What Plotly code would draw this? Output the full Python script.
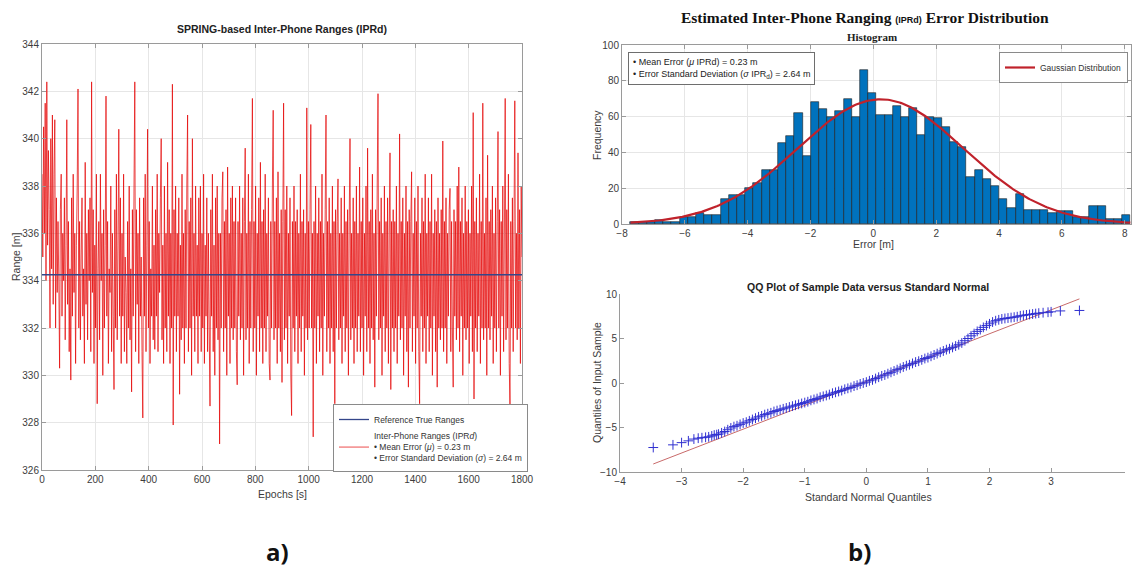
import plotly.graph_objects as go
import numpy as np

# ---------------- data ----------------
epochs = list(range(0, 1801, 3))
ipr_ranges = [
    338.5, 335.0, 340.5, 336.0, 341.5, 334.0, 342.4, 335.5, 339.5, 337.0, 332.0, 340.0, 334.5, 341.0, 333.0, 338.5, 340.8, 332.0, 337.5, 333.5,
    336.5, 334.0, 330.3, 337.0, 338.5, 332.5, 336.0, 334.0, 337.5, 331.5, 335.5, 340.8, 333.0, 336.5, 331.0, 334.5, 329.8, 337.5, 332.5, 338.5,
    333.5, 336.0, 330.5, 335.5, 338.0, 342.1, 332.0, 336.5, 331.5, 335.0, 337.5, 332.5, 334.5, 330.5, 339.0, 333.0, 336.0, 331.5, 337.0, 334.0,
    337.5, 331.0, 342.4, 333.5, 337.0, 330.5, 335.5, 332.0, 338.5, 328.8, 334.5, 336.5, 331.5, 338.5, 334.0, 336.0, 330.0, 337.0, 332.0, 335.5,
    341.8, 332.5, 336.5, 330.5, 334.5, 333.5, 338.0, 331.0, 336.0, 332.5, 329.4, 337.0, 332.0, 338.5, 331.5, 335.5, 340.4, 332.5, 337.5, 330.5,
    336.0, 332.5, 338.5, 331.0, 335.0, 333.5, 330.5, 336.5, 332.0, 338.0, 331.5, 334.5, 329.3, 337.0, 332.5, 338.0, 342.4, 331.0, 337.0, 333.0,
    336.0, 330.5, 337.5, 332.5, 335.0, 331.0, 328.2, 337.5, 332.5, 338.5, 331.0, 335.5, 340.4, 332.0, 336.5, 330.5, 334.5, 332.5, 338.0, 331.5,
    335.5, 331.1, 337.0, 332.5, 338.5, 331.0, 336.0, 333.5, 337.5, 340.0, 331.5, 335.5, 330.5, 338.0, 332.0, 336.0, 331.0, 339.0, 332.5, 337.0,
    330.5, 336.0, 332.0, 342.3, 327.9, 337.0, 332.5, 338.0, 331.0, 336.0, 332.5, 337.5, 329.2, 335.5, 331.5, 338.5, 332.0, 336.0, 330.5, 337.0,
    332.0, 338.0, 341.0, 331.0, 336.5, 332.0, 337.5, 330.0, 340.0, 332.5, 336.0, 331.0, 338.0, 332.5, 335.5, 330.5, 337.5, 332.5, 338.0, 331.0,
    336.0, 332.0, 338.5, 330.5, 335.5, 332.5, 337.5, 331.0, 336.0, 332.0, 328.7, 337.0, 332.5, 338.5, 331.0, 335.5, 330.0, 337.5, 332.0, 338.0,
    331.5, 336.0, 327.1, 336.0, 332.0, 337.5, 338.6, 331.0, 336.5, 332.0, 337.0, 330.0, 338.8, 332.5, 336.0, 330.5, 337.5, 332.0, 338.0, 331.5,
    336.5, 332.0, 337.5, 331.0, 329.6, 336.5, 332.5, 338.0, 331.5, 336.0, 332.0, 337.5, 330.0, 336.5, 339.6, 331.5, 336.0, 332.0, 338.5, 330.5,
    336.5, 332.0, 337.0, 341.7, 331.0, 336.5, 332.0, 338.0, 330.0, 336.0, 332.5, 337.5, 331.0, 339.0, 332.0, 336.5, 330.5, 337.0, 332.0, 338.5,
    331.0, 336.0, 332.5, 337.5, 330.5, 329.8, 336.5, 332.0, 338.0, 341.2, 331.5, 336.5, 332.0, 337.5, 330.5, 338.6, 332.0, 336.0, 331.0, 337.0,
    329.7, 336.5, 341.5, 331.5, 337.0, 332.0, 338.0, 330.5, 336.0, 332.5, 337.5, 330.0, 328.3, 336.5, 332.0, 338.0, 331.0, 336.5, 332.5, 337.0,
    330.5, 336.0, 332.0, 338.5, 331.0, 336.5, 332.5, 337.0, 330.0, 336.0, 332.0, 341.3, 331.5, 336.5, 332.0, 337.0, 340.6, 332.0, 336.0, 327.4,
    336.5, 332.0, 338.0, 330.5, 336.0, 332.5, 337.5, 331.0, 336.5, 332.0, 338.5, 330.0, 336.0, 332.5, 337.0, 341.0, 331.0, 336.5, 332.0, 337.5,
    330.5, 336.0, 332.0, 338.0, 331.0, 336.5, 328.8, 337.0, 332.0, 336.5, 338.3, 331.5, 336.0, 332.0, 337.5, 330.5, 336.0, 332.5, 338.0, 331.0,
    336.5, 332.0, 337.0, 330.0, 336.5, 340.0, 331.5, 336.0, 332.0, 337.5, 330.5, 336.5, 332.0, 338.0, 331.0, 336.0, 332.5, 338.8, 331.0, 336.5,
    332.0, 337.5, 330.0, 336.0, 332.5, 338.0, 331.0, 339.6, 332.0, 336.5, 330.5, 337.0, 332.0, 338.5, 331.5, 336.0, 329.5, 337.0, 332.5, 338.0,
    341.9, 331.5, 336.5, 332.0, 337.5, 330.0, 336.0, 332.5, 338.0, 331.0, 336.5, 332.0, 337.5, 330.5, 336.0, 339.4, 329.4, 336.5, 332.0, 337.0,
    331.0, 336.5, 332.0, 338.0, 330.5, 336.0, 332.5, 340.2, 331.5, 336.5, 332.0, 337.5, 330.0, 336.0, 332.5, 338.0, 331.0, 336.5, 329.5, 337.0,
    332.0, 336.5, 338.6, 331.0, 336.0, 332.5, 337.5, 330.5, 336.5, 332.0, 338.0, 331.0, 328.8, 336.0, 332.5, 337.5, 331.0, 336.5, 332.0, 338.5,
    330.5, 336.0, 332.5, 337.5, 331.0, 336.5, 332.0, 338.5, 330.0, 336.0, 332.5, 337.0, 331.0, 336.5, 329.5, 337.5, 332.0, 336.0, 331.5, 337.0,
    332.0, 339.9, 331.0, 336.5, 332.0, 337.5, 330.5, 336.0, 332.5, 337.0, 337.9, 331.0, 336.5, 332.0, 329.5, 337.0, 332.5, 336.5, 331.5, 338.0,
    332.0, 338.8, 331.0, 336.5, 332.5, 337.5, 330.0, 336.0, 332.0, 338.0, 331.5, 336.5, 332.0, 337.0, 330.5, 336.0, 332.5, 338.0, 331.0, 341.1,
    329.0, 336.5, 332.0, 337.5, 331.0, 336.0, 332.5, 338.5, 330.5, 336.5, 332.0, 341.5, 331.5, 336.0, 332.0, 337.5, 330.0, 339.3, 332.0, 336.5,
    331.5, 337.0, 332.5, 338.0, 330.5, 336.0, 332.0, 337.5, 331.0, 336.5, 340.3, 332.0, 337.0, 330.0, 336.5, 332.5, 338.0, 331.0, 336.0, 341.7,
    331.5, 337.0, 332.0, 338.5, 330.5, 328.6, 336.5, 332.0, 337.5, 331.0, 336.5, 341.6, 332.0, 336.0, 331.5, 339.4, 332.0, 337.0, 330.5, 338.0,
    335.0,
]
true_range = 334.25

hist_bin_start = -7.73
hist_bin_width = 0.2608
hist_counts = [1, 1, 1, 2, 1, 1, 4, 4, 6, 5, 5, 14, 16, 16, 20, 23, 30, 30, 45, 49,
               62, 38, 68, 64, 60, 63, 70, 60, 86, 73,
               61, 61, 66, 60, 65, 50, 60, 59, 54, 46, 43, 26, 30, 25, 21, 14, 9, 17,
               8, 8, 8, 6, 7, 7, 4, 4, 10, 10, 3, 3, 5]
mean_err = 0.23
std_err = 2.64

qq_x = [-3.46, -3.14, -3.0, -2.89, -2.80, -2.73, -2.67, -2.61, -2.56, -2.51, -2.47, -2.43,
        -2.40, -2.35, -2.30, -2.25, -2.20, -2.15, -2.10, -2.05, -2.00, -1.95, -1.90, -1.85,
        -1.80, -1.75, -1.70, -1.65, -1.60, -1.55, -1.50, -1.45, -1.40, -1.35, -1.30, -1.25,
        -1.20, -1.15, -1.10, -1.05, -1.00, -0.95, -0.90, -0.85, -0.80, -0.75, -0.70, -0.65,
        -0.60, -0.55, -0.50, -0.45, -0.40, -0.35, -0.30, -0.25, -0.20, -0.15, -0.10, -0.05,
        0.00, 0.05, 0.10, 0.15, 0.20, 0.25, 0.30, 0.35, 0.40, 0.45, 0.50, 0.55,
        0.60, 0.65, 0.70, 0.75, 0.80, 0.85, 0.90, 0.95, 1.00, 1.05, 1.10, 1.15,
        1.20, 1.25, 1.30, 1.35, 1.40, 1.45, 1.50, 1.55, 1.60, 1.65, 1.70, 1.75,
        1.80, 1.85, 1.90, 1.95, 2.00, 2.05, 2.10, 2.15, 2.20, 2.25, 2.30, 2.35,
        2.40, 2.45, 2.50, 2.55, 2.60, 2.65, 2.70, 2.75, 2.80, 2.87, 2.95, 3.0, 3.15, 3.46]
qq_y = [-7.25, -6.95, -6.7, -6.5, -6.3, -6.2, -6.15, -6.1, -6.05, -5.95, -5.85, -5.8,
        -5.75, -5.6, -5.45, -5.25, -5.05, -4.9, -4.8, -4.65, -4.5, -4.4, -4.25, -4.1,
        -3.95, -3.8, -3.7, -3.55, -3.45, -3.35, -3.2, -3.1, -3.0, -2.9, -2.8, -2.7,
        -2.6, -2.5, -2.4, -2.3, -2.2, -2.1, -1.95, -1.85, -1.75, -1.6, -1.5, -1.4,
        -1.3, -1.15, -1.05, -0.95, -0.85, -0.7, -0.6, -0.5, -0.35, -0.25, -0.1, 0.0,
        0.1, 0.25, 0.35, 0.5, 0.65, 0.8, 0.9, 1.05, 1.2, 1.35, 1.5, 1.65,
        1.8, 1.95, 2.05, 2.2, 2.35, 2.45, 2.6, 2.75, 2.85, 3.0, 3.15, 3.3,
        3.45, 3.6, 3.75, 3.85, 4.0, 4.15, 4.3, 4.5, 4.75, 5.0, 5.3, 5.55,
        5.8, 6.0, 6.25, 6.45, 6.65, 6.85, 7.0, 7.1, 7.2, 7.25, 7.3, 7.35,
        7.4, 7.45, 7.55, 7.6, 7.65, 7.7, 7.75, 7.8, 7.85, 7.9, 7.95, 8.0, 8.1, 8.15]
qq_ref_x = [-3.46, 3.46]
qq_ref_y = [-9.1, 9.45]

# ---------------- derived ----------------
bin_centers = [hist_bin_start + (i + 0.5) * hist_bin_width for i in range(len(hist_counts))]
n_total = sum(hist_counts)
gx = np.linspace(hist_bin_start, hist_bin_start + len(hist_counts) * hist_bin_width, 300)
gy = n_total * hist_bin_width / (std_err * np.sqrt(2 * np.pi)) * np.exp(-0.5 * ((gx - mean_err) / std_err) ** 2)

FONT = "Liberation Sans, Arial, sans-serif"
SERIF = "Liberation Serif, DejaVu Serif, serif"
AX = "#9a9a9a"
TXT = "#3c3c3c"
GRID = "#e6e6e6"

fig = go.Figure()

fig.add_trace(go.Scatter(
    x=epochs, y=ipr_ranges, mode="lines",
    line=dict(color="rgba(228,0,0,0.7)", width=1, simplify=False),
    name="Inter-Phone Ranges (IPR<i>d</i>)<br>• Mean Error (<i>μ</i>) = 0.23 m<br>• Error Standard Deviation (<i>σ</i>) = 2.64 m",
    legendrank=2, xaxis="x", yaxis="y", legend="legend"))
fig.add_trace(go.Scatter(
    x=[epochs[0], epochs[-1]], y=[true_range, true_range], mode="lines",
    line=dict(color="#34468a", width=1.3),
    name="Reference True Ranges", legendrank=1, xaxis="x", yaxis="y", legend="legend"))

fig.add_trace(go.Bar(
    x=bin_centers, y=hist_counts, width=hist_bin_width,
    marker=dict(color="#0072BD", line=dict(color="#1b1b1b", width=0.6)),
    showlegend=False, xaxis="x2", yaxis="y2"))
fig.add_trace(go.Scatter(
    x=gx, y=gy, mode="lines", line=dict(color="#c0222b", width=2.2),
    name="Gaussian Distribution", xaxis="x2", yaxis="y2", legend="legend2"))

fig.add_trace(go.Scatter(
    x=qq_ref_x, y=qq_ref_y, mode="lines", line=dict(color="#c86a6a", width=1),
    showlegend=False, xaxis="x3", yaxis="y3"))
fig.add_trace(go.Scatter(
    x=qq_x, y=qq_y, mode="markers",
    marker=dict(symbol="cross-thin", size=7, line=dict(color="#3030d0", width=1)),
    showlegend=False, xaxis="x3", yaxis="y3"))

def axstyle(**kw):
    d = dict(showline=True, linecolor=AX, linewidth=1, ticks="inside", ticklen=4,
             tickcolor=AX, tickfont=dict(size=10, color=TXT, family=FONT),
             zeroline=False, showgrid=True, gridcolor=GRID, gridwidth=1,
             automargin=False)
    d.update(kw)
    return d

W, H = 1134, 569
def dx(a, b):
    return [a / W, b / W]
def dy(top, bottom):
    return [1 - bottom / H, 1 - top / H]

fig.update_layout(
    width=W, height=H, margin=dict(l=0, r=0, t=0, b=0),
    paper_bgcolor="white", plot_bgcolor="white",
    font=dict(family=FONT, color=TXT),
    xaxis=axstyle(domain=dx(42, 522), range=[0, 1800], tickvals=list(range(0, 1801, 200)),
                  mirror="ticks", anchor="y"),
    yaxis=axstyle(domain=dy(44, 470), range=[326, 344], tickvals=list(range(326, 345, 2)),
                  mirror="ticks", anchor="x"),
    xaxis2=axstyle(domain=dx(622, 1131), range=[-8, 8.2], tickvals=list(range(-8, 9, 2)),
                   mirror="ticks", anchor="y2"),
    yaxis2=axstyle(domain=dy(45, 224), range=[0, 100], tickvals=list(range(0, 101, 20)),
                   mirror="ticks", anchor="x2"),
    xaxis3=axstyle(domain=dx(620, 1125), range=[-4, 4.2], tickvals=list(range(-4, 4)),
                   showgrid=False, anchor="y3"),
    yaxis3=axstyle(domain=dy(294, 472), range=[-10, 10], tickvals=[-10, -5, 0, 5, 10],
                   showgrid=False, anchor="x3"),
    legend=dict(x=333 / W, y=1 - 404 / H, xanchor="left", yanchor="top",
                bgcolor="white", bordercolor="#8a8a8a", borderwidth=1,
                font=dict(size=8.5, color="#333333", family=FONT),
                tracegroupgap=4, itemwidth=30, valign="middle"),
    legend2=dict(x=999 / W, y=1 - 52 / H, xanchor="left", yanchor="top",
                 bgcolor="white", bordercolor="#8a8a8a", borderwidth=1,
                 font=dict(size=8.5, color="#333333", family=FONT), itemwidth=30),
    bargap=0,
)

annotations = [
    dict(text="<b>SPRING-based Inter-Phone Ranges (IPRd)</b>", x=282 / W, y=1 - 29 / H,
         font=dict(size=10.5, color="#222222", family=FONT)),
    dict(text="<b>Estimated Inter-Phone Ranging <span style='font-size:9px;font-family:Liberation Sans'>(IPRd)</span> Error Distribution</b>",
         x=865 / W, y=1 - 17 / H, font=dict(size=15.5, color="#111111", family=SERIF)),
    dict(text="<b>Histogram</b>", x=872 / W, y=1 - 37 / H,
         font=dict(size=11, color="#222222", family=SERIF)),
    dict(text="<b>QQ Plot of Sample Data versus Standard Normal</b>", x=868 / W, y=1 - 287 / H,
         font=dict(size=10.5, color="#222222", family=FONT)),
    dict(text="• Mean Error (<i>μ</i> IPRd) = 0.23 m<br>• Error Standard Deviation (<i>σ</i> IPR<sub>d</sub>) = 2.64 m",
         x=628 / W, y=1 - 52 / H, xanchor="left", yanchor="top", align="left",
         bgcolor="white", bordercolor="#6e6e6e", borderwidth=1, borderpad=4,
         font=dict(size=9, color="#222222", family=FONT)),
    # axis titles
    dict(text="Epochs [s]", x=282 / W, y=1 - 494 / H, font=dict(size=10.5, color=TXT)),
    dict(text="Range [m]", x=16 / W, y=1 - 257 / H, textangle=-90, font=dict(size=10.5, color=TXT)),
    dict(text="Error [m]", x=873 / W, y=1 - 244 / H, font=dict(size=10.5, color=TXT)),
    dict(text="Frequency", x=597 / W, y=1 - 135 / H, textangle=-90, font=dict(size=10.5, color=TXT)),
    dict(text="Standard Normal Quantiles", x=868 / W, y=1 - 497 / H, font=dict(size=10.5, color=TXT)),
    dict(text="Quantiles of Input Sample", x=597 / W, y=1 - 383 / H, textangle=-90, font=dict(size=10.5, color=TXT)),
    dict(text="<b>a)</b>", x=277 / W, y=1 - 551 / H,
         font=dict(size=24, color="#111111", family="Open Sans, sans-serif")),
    dict(text="<b>b)</b>", x=859 / W, y=1 - 551 / H,
         font=dict(size=24, color="#111111", family="Open Sans, sans-serif")),
]
for a in annotations:
    a.setdefault("xref", "paper")
    a.setdefault("yref", "paper")
    a.setdefault("showarrow", False)
    a.setdefault("xanchor", "center")
    a.setdefault("yanchor", "middle")
fig.update_layout(annotations=annotations)

fig.write_html("out.html", config={"displayModeBar": False},
               post_script="document.body.style.margin='0';document.body.style.overflow='hidden';")
